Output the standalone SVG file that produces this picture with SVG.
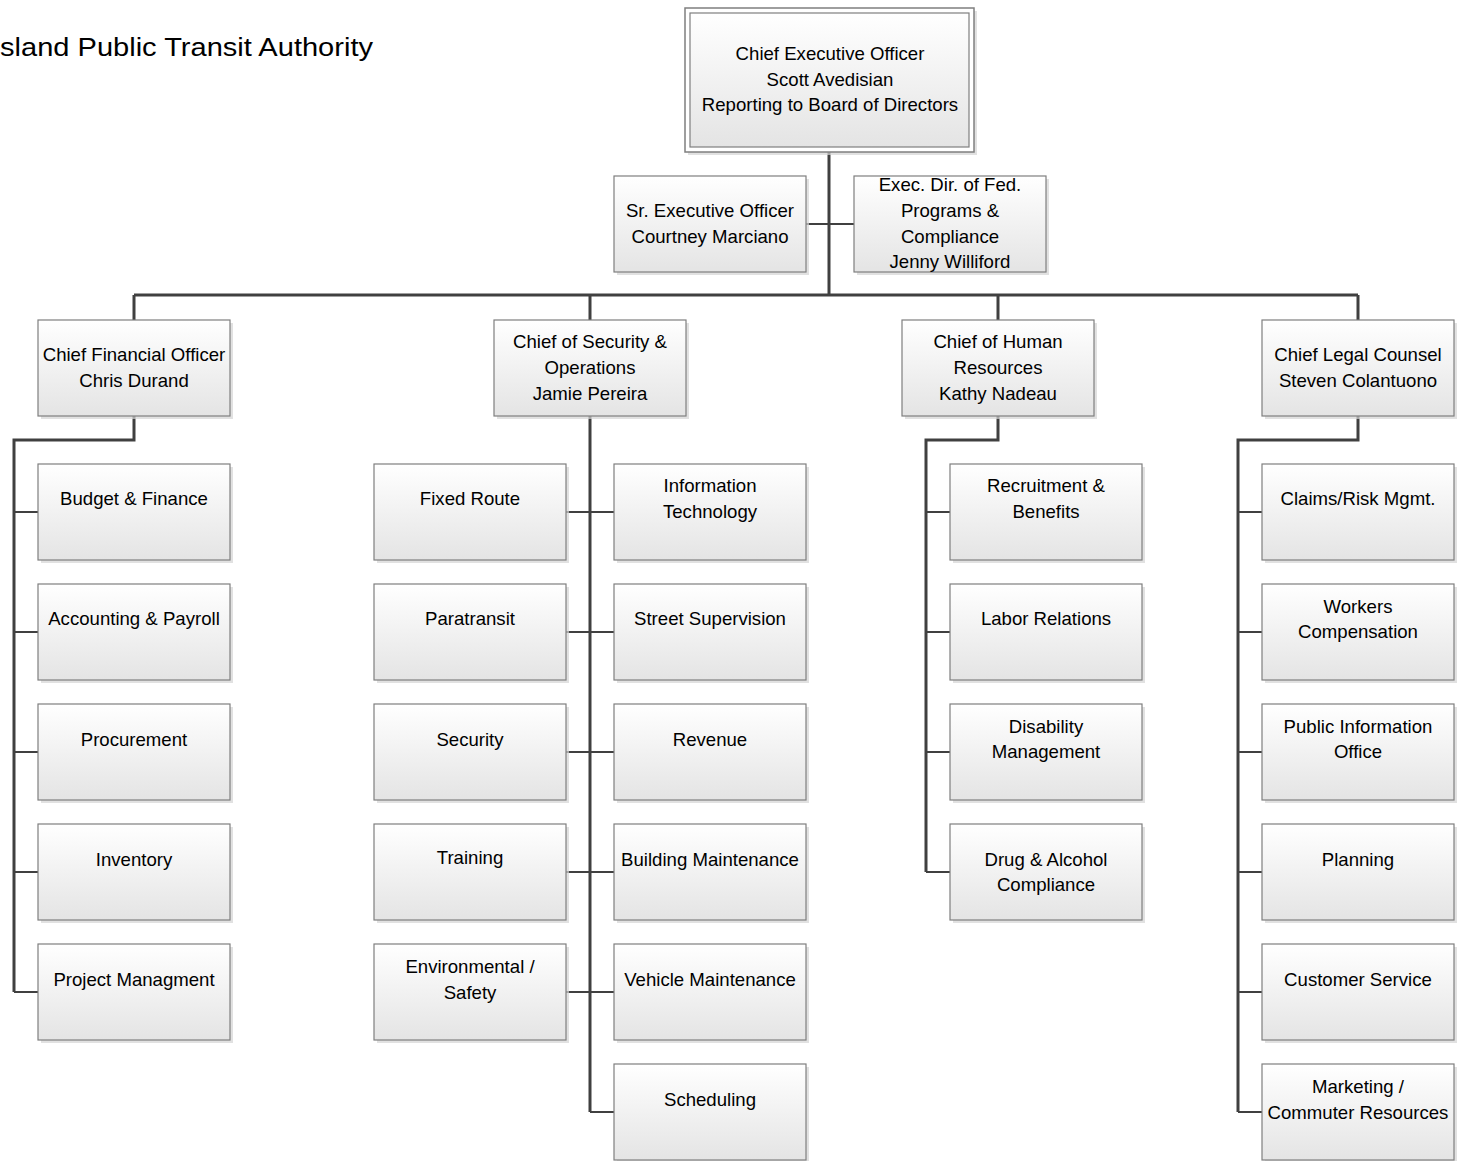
<svg xmlns="http://www.w3.org/2000/svg" width="1458" height="1161" viewBox="0 0 1458 1161">
<style>
.box{fill:url(#g);stroke:#7f7f7f;stroke-width:1.2}
.sh{fill:#d4d4d4;opacity:0.7}
.t{font-family:"Liberation Sans",Arial,sans-serif;font-size:18.6px;fill:#000;text-anchor:middle}
.main{stroke:#404040;stroke-width:3;fill:none}
.tick{stroke:#404040;stroke-width:2;fill:none}
</style>
<defs>
<linearGradient id="g" x1="0" y1="0" x2="0" y2="1">
<stop offset="0" stop-color="#ffffff"/>
<stop offset="1" stop-color="#e4e4e4"/>
</linearGradient>
</defs>
<rect width="1458" height="1161" fill="#fff"/>
<text x="0" y="56" font-family="'Liberation Sans',Arial,sans-serif" font-size="26" textLength="373" lengthAdjust="spacingAndGlyphs">sland Public Transit Authority</text>

<g id="connectors">
<path class="main" d="M829 152V295M134 295H1358M134 295V320M590 295V320M998 295V320M1358 295V320"/>
<path class="tick" d="M806 224H854"/>
<path class="main" d="M134 416V440H14V992"/>
<path class="tick" d="M14 512H38M14 632H38M14 752H38M14 872H38M14 992H38"/>
<path class="main" d="M590 416V1112"/>
<path class="tick" d="M566 512H614M566 632H614M566 752H614M566 872H614M566 992H614M590 1112H614"/>
<path class="main" d="M998 416V440H926V872"/>
<path class="tick" d="M926 512H950M926 632H950M926 752H950M926 872H950"/>
<path class="main" d="M1358 416V440H1238V1112"/>
<path class="tick" d="M1238 512H1262M1238 632H1262M1238 752H1262M1238 872H1262M1238 992H1262M1238 1112H1262"/>
</g>

<g id="ceo">
<rect class="sh" x="688" y="11" width="289" height="144"/>
<rect x="685" y="8" width="289" height="144" fill="#fff" stroke="#7f7f7f" stroke-width="1.5"/>
<rect class="box" x="690" y="13" width="279" height="134"/>
<text class="t" x="830" y="60">Chief Executive Officer</text>
<text class="t" x="830" y="86">Scott Avedisian</text>
<text class="t" x="830" y="111">Reporting to Board of Directors</text>
</g>

<g id="sr-exec">
<rect class="sh" x="617" y="179" width="192" height="96"/>
<rect class="box" x="614" y="176" width="192" height="96"/>
<text class="t" x="710" y="217">Sr. Executive Officer</text>
<text class="t" x="710" y="243">Courtney Marciano</text>
</g>

<g id="exec-dir">
<rect class="sh" x="857" y="179" width="192" height="96"/>
<rect class="box" x="854" y="176" width="192" height="96"/>
<text class="t" x="950" y="191">Exec. Dir. of Fed.</text>
<text class="t" x="950" y="217">Programs &amp;</text>
<text class="t" x="950" y="243">Compliance</text>
<text class="t" x="950" y="268">Jenny Williford</text>
</g>

<g id="cfo">
<rect class="sh" x="41" y="323" width="192" height="96"/>
<rect class="box" x="38" y="320" width="192" height="96"/>
<text class="t" x="134" y="361">Chief Financial Officer</text>
<text class="t" x="134" y="387">Chris Durand</text>
</g>

<g id="security-ops">
<rect class="sh" x="497" y="323" width="192" height="96"/>
<rect class="box" x="494" y="320" width="192" height="96"/>
<text class="t" x="590" y="348">Chief of Security &amp;</text>
<text class="t" x="590" y="374">Operations</text>
<text class="t" x="590" y="400">Jamie Pereira</text>
</g>

<g id="hr">
<rect class="sh" x="905" y="323" width="192" height="96"/>
<rect class="box" x="902" y="320" width="192" height="96"/>
<text class="t" x="998" y="348">Chief of Human</text>
<text class="t" x="998" y="374">Resources</text>
<text class="t" x="998" y="400">Kathy Nadeau</text>
</g>

<g id="legal">
<rect class="sh" x="1265" y="323" width="192" height="96"/>
<rect class="box" x="1262" y="320" width="192" height="96"/>
<text class="t" x="1358" y="361">Chief Legal Counsel</text>
<text class="t" x="1358" y="387">Steven Colantuono</text>
</g>

<g id="budget-finance"><rect class="sh" x="41" y="467" width="192" height="96"/><rect class="box" x="38" y="464" width="192" height="96"/><text class="t" x="134" y="505">Budget &amp; Finance</text></g>
<g id="accounting-payroll"><rect class="sh" x="41" y="587" width="192" height="96"/><rect class="box" x="38" y="584" width="192" height="96"/><text class="t" x="134" y="625">Accounting &amp; Payroll</text></g>
<g id="procurement"><rect class="sh" x="41" y="707" width="192" height="96"/><rect class="box" x="38" y="704" width="192" height="96"/><text class="t" x="134" y="746">Procurement</text></g>
<g id="inventory"><rect class="sh" x="41" y="827" width="192" height="96"/><rect class="box" x="38" y="824" width="192" height="96"/><text class="t" x="134" y="866">Inventory</text></g>
<g id="project-management"><rect class="sh" x="41" y="947" width="192" height="96"/><rect class="box" x="38" y="944" width="192" height="96"/><text class="t" x="134" y="986">Project Managment</text></g>

<g id="fixed-route"><rect class="sh" x="377" y="467" width="192" height="96"/><rect class="box" x="374" y="464" width="192" height="96"/><text class="t" x="470" y="505">Fixed Route</text></g>
<g id="paratransit"><rect class="sh" x="377" y="587" width="192" height="96"/><rect class="box" x="374" y="584" width="192" height="96"/><text class="t" x="470" y="625">Paratransit</text></g>
<g id="security"><rect class="sh" x="377" y="707" width="192" height="96"/><rect class="box" x="374" y="704" width="192" height="96"/><text class="t" x="470" y="746">Security</text></g>
<g id="training"><rect class="sh" x="377" y="827" width="192" height="96"/><rect class="box" x="374" y="824" width="192" height="96"/><text class="t" x="470" y="864">Training</text></g>
<g id="environmental-safety"><rect class="sh" x="377" y="947" width="192" height="96"/><rect class="box" x="374" y="944" width="192" height="96"/><text class="t" x="470" y="973">Environmental /</text><text class="t" x="470" y="999">Safety</text></g>

<g id="information-technology"><rect class="sh" x="617" y="467" width="192" height="96"/><rect class="box" x="614" y="464" width="192" height="96"/><text class="t" x="710" y="492">Information</text><text class="t" x="710" y="518">Technology</text></g>
<g id="street-supervision"><rect class="sh" x="617" y="587" width="192" height="96"/><rect class="box" x="614" y="584" width="192" height="96"/><text class="t" x="710" y="625">Street Supervision</text></g>
<g id="revenue"><rect class="sh" x="617" y="707" width="192" height="96"/><rect class="box" x="614" y="704" width="192" height="96"/><text class="t" x="710" y="746">Revenue</text></g>
<g id="building-maintenance"><rect class="sh" x="617" y="827" width="192" height="96"/><rect class="box" x="614" y="824" width="192" height="96"/><text class="t" x="710" y="866">Building Maintenance</text></g>
<g id="vehicle-maintenance"><rect class="sh" x="617" y="947" width="192" height="96"/><rect class="box" x="614" y="944" width="192" height="96"/><text class="t" x="710" y="986">Vehicle Maintenance</text></g>
<g id="scheduling"><rect class="sh" x="617" y="1067" width="192" height="96"/><rect class="box" x="614" y="1064" width="192" height="96"/><text class="t" x="710" y="1106">Scheduling</text></g>

<g id="recruitment-benefits"><rect class="sh" x="953" y="467" width="192" height="96"/><rect class="box" x="950" y="464" width="192" height="96"/><text class="t" x="1046" y="492">Recruitment &amp;</text><text class="t" x="1046" y="518">Benefits</text></g>
<g id="labor-relations"><rect class="sh" x="953" y="587" width="192" height="96"/><rect class="box" x="950" y="584" width="192" height="96"/><text class="t" x="1046" y="625">Labor Relations</text></g>
<g id="disability-management"><rect class="sh" x="953" y="707" width="192" height="96"/><rect class="box" x="950" y="704" width="192" height="96"/><text class="t" x="1046" y="733">Disability</text><text class="t" x="1046" y="758">Management</text></g>
<g id="drug-alcohol"><rect class="sh" x="953" y="827" width="192" height="96"/><rect class="box" x="950" y="824" width="192" height="96"/><text class="t" x="1046" y="866">Drug &amp; Alcohol</text><text class="t" x="1046" y="891">Compliance</text></g>

<g id="claims-risk"><rect class="sh" x="1265" y="467" width="192" height="96"/><rect class="box" x="1262" y="464" width="192" height="96"/><text class="t" x="1358" y="505">Claims/Risk Mgmt.</text></g>
<g id="workers-comp"><rect class="sh" x="1265" y="587" width="192" height="96"/><rect class="box" x="1262" y="584" width="192" height="96"/><text class="t" x="1358" y="613">Workers</text><text class="t" x="1358" y="638">Compensation</text></g>
<g id="public-info"><rect class="sh" x="1265" y="707" width="192" height="96"/><rect class="box" x="1262" y="704" width="192" height="96"/><text class="t" x="1358" y="733">Public Information</text><text class="t" x="1358" y="758">Office</text></g>
<g id="planning"><rect class="sh" x="1265" y="827" width="192" height="96"/><rect class="box" x="1262" y="824" width="192" height="96"/><text class="t" x="1358" y="866">Planning</text></g>
<g id="customer-service"><rect class="sh" x="1265" y="947" width="192" height="96"/><rect class="box" x="1262" y="944" width="192" height="96"/><text class="t" x="1358" y="986">Customer Service</text></g>
<g id="marketing"><rect class="sh" x="1265" y="1067" width="192" height="96"/><rect class="box" x="1262" y="1064" width="192" height="96"/><text class="t" x="1358" y="1093">Marketing /</text><text class="t" x="1358" y="1119">Commuter Resources</text></g>
</svg>
